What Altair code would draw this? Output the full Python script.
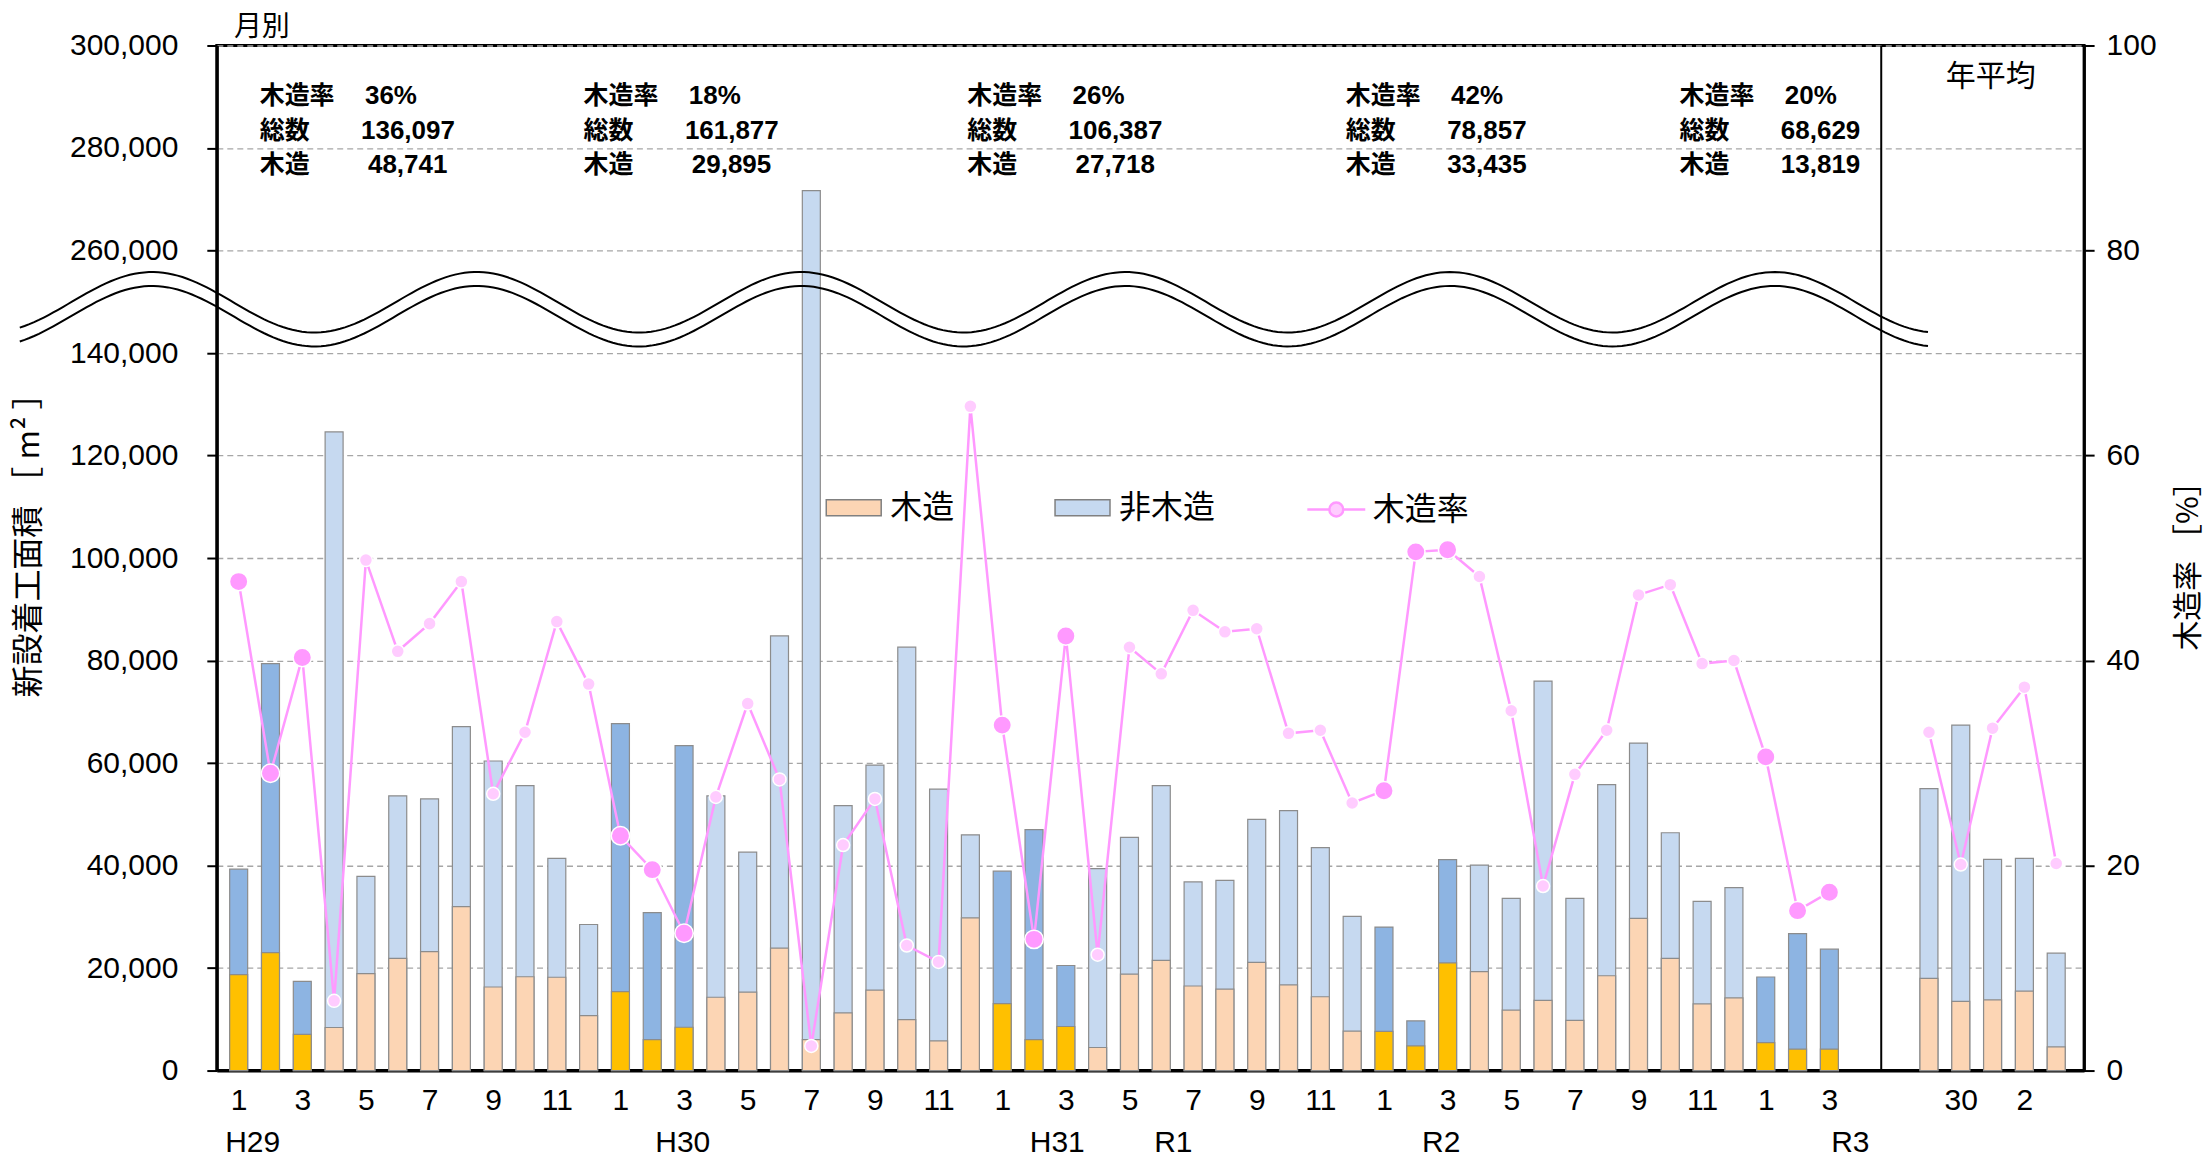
import json
import altair as alt
import pandas as pd
import numpy as np

# ---------------- data ----------------
months = [1, 2, 3, 4, 5, 6, 7, 8, 9, 10, 11, 12] * 4 + [1, 2, 3]
total_month = [
    39300, 79400, 17400, 124600, 37900, 53600, 53000, 67100, 60400, 55600, 41400, 28500,   # H29
    67700, 30800, 63400, 53600, 42600, 84800, 271700, 51700, 59600, 82600, 54900, 46000,   # H30
    38900, 47000, 20500, 39400, 45500, 55600, 36800, 37100, 49000, 50700, 43500, 30100,   # H31/R1
    28000, 9700, 41150, 40100, 33600, 76000, 33600, 55800, 63900, 46400, 33000, 35700,    # R2
    18250, 26700, 23680,                                                                 # R3
]
wood_month = [
    18700, 23000, 7041, 8400, 18900, 21900, 23200, 32000, 16300, 18300, 18200, 10700,
    15400, 6050, 8450, 14300, 15300, 23900, 6050, 11250, 15700, 9950, 5800, 29800,
    13050, 6050, 8600, 4500, 18800, 21500, 16500, 15900, 21100, 16700, 14400, 7700,
    7650, 4800, 21000, 19300, 11800, 13700, 9800, 18500, 29700, 21900, 13000, 14200,
    5460, 4180, 4180,
]
rate_month = [
    47.7, 29.0, 40.3, 6.8, 49.8, 40.9, 43.6, 47.7, 27.0, 33.0, 43.8, 37.7,
    22.9, 19.6, 13.4, 26.7, 35.8, 28.4, 2.4, 22.0, 26.5, 12.2, 10.6, 64.8,
    33.7, 12.8, 42.4, 11.3, 41.3, 38.7, 44.9, 42.8, 43.1, 32.9, 33.2, 26.1,
    27.3, 50.6, 50.8, 48.2, 35.1, 18.0, 28.9, 33.2, 46.4, 47.4, 39.7, 40.0,
    30.6, 15.6, 17.4,
]
annual_labels = ["29", "30", "元", "2", "3"]
total_annual = [55000, 67400, 41200, 41400, 22900]
wood_annual = [18000, 13500, 13800, 15500, 4620]
rate_annual = [33.0, 20.1, 33.4, 37.4, 20.2]

era_names = ["H29", "H30", "H31", "R1", "R2", "R3"]
block_rate = ["36%", "18%", "26%", "42%", "20%"]
block_total = ["136,097", "161,877", "106,387", "78,857", "68,629"]
block_wood = ["48,741", "29,895", "27,718", "33,435", "13,819"]
block_labels = ["木造率", "総数", "木造"]

# ---------------- layout ----------------
H = 1026
slot = 32.02                       # px per category slot
x_min, x_max = -0.53, 57.85        # x extent in slot units
W = round((x_max - x_min) * slot)
ann_first = 53.13                  # slot position of the first yearly-average bar
sep_pos = 51.63                    # monthly / yearly separator
CJK = "Noto Sans CJK JP"
NUM = "Liberation Sans"
n_m = len(months)

xpos_month = list(range(n_m))
xpos_ann = [round(ann_first + j, 2) for j in range(len(annual_labels))]

era_x = [0.44, 13.96, 25.73, 29.38, 37.8, 50.66]
block_x = [0.66, 10.84, 22.9, 34.8, 45.29]
line_py = [50.7, 85.7, 119.7]          # pixel offsets from the top of the plot


def py_to_rate(py):
    return 100.0 * (1.0 - py / H)


# ---------------- tables ----------------
rows = []
for i, m in enumerate(months):
    hl = m <= 3
    rows.append(dict(x=xpos_month[i], total=total_month[i], wood=wood_month[i],
                     kt="非木造1-3月" if hl else "非木造", kw="木造1-3月" if hl else "木造",
                     rate=rate_month[i], big=hl, seg="m", series="木造率"))
for j, lab in enumerate(annual_labels):
    rows.append(dict(x=xpos_ann[j], total=total_annual[j], wood=wood_annual[j],
                     kt="非木造", kw="木造", rate=rate_annual[j], big=False, seg="a", series="木造率"))
df = pd.DataFrame(rows)

# tick labels: every second category, as in the reference
tick_map = {}
for i, m in enumerate(months):
    if i % 2 == 0:
        tick_map[str(xpos_month[i])] = str(m)
for j, lab in enumerate(annual_labels):
    if j % 2 == 1:
        tick_map[str(xpos_ann[j])] = lab
tick_values = [float(k) for k in tick_map]
label_expr = json.dumps(tick_map, ensure_ascii=False) + "[''+datum.value]"

# axis-break symbol (decoration): two parallel wavy lines
wx = np.linspace(-6.88, 53.1, 400)
wtop = 74.95 + 2.95 * np.cos(2 * np.pi * (wx + 2.72) / 10.2)
wave_df = pd.concat([
    pd.DataFrame(dict(x=wx, y=wtop, curve="a")),
    pd.DataFrame(dict(x=wx, y=wtop - 1.36, curve="b")),
])

ann_rows = []
for b in range(len(block_x)):
    vals = [block_rate[b], block_total[b], block_wood[b]]
    offs = [106, 102, 102 + 7 * (len(block_total[b]) - len(block_wood[b]))]
    for k in range(3):
        ann_rows.append(dict(x=block_x[b], y=py_to_rate(line_py[k]), t=block_labels[k], kind="lab"))
        ann_rows.append(dict(x=block_x[b] + offs[k] / slot, y=py_to_rate(line_py[k]), t=vals[k], kind="num"))
ann_df = pd.DataFrame(ann_rows)

era_df = pd.DataFrame(dict(x=era_x, t=era_names))
misc_df = pd.DataFrame(dict(x=[-0.15, 55.07], y=[py_to_rate(-17), py_to_rate(32)],
                            t=["月別", "年平均"], al=["left", "center"]))
sep_df = pd.DataFrame(dict(x=[sep_pos]))

# ---------------- scales / axes ----------------
xscale = alt.Scale(domain=[x_min, x_max], nice=False, zero=False)
xaxis = alt.Axis(values=tick_values, labelExpr=label_expr,
                 ticks=False, domainColor="black", domainWidth=3, labelFont=NUM,
                 labelFontSize=30, labelColor="black", labelPadding=15, title=None,
                 grid=False, labelFlush=False, labelOverlap=False)


def X():
    return alt.X("x:Q", scale=xscale, axis=xaxis)


yscale = alt.Scale(domain=[0, 140000, 260000, 300000], range=[H, 0.3 * H, 0.2 * H, 0], nice=False)
yaxis = alt.Axis(values=[0, 20000, 40000, 60000, 80000, 100000, 120000, 140000, 260000, 280000, 300000],
                 format=",d", orient="left", title="新設着工面積 ［ m² ］", titleFont=CJK,
                 titleFontSize=32, titleFontWeight="normal", titleColor="black", titlePadding=24,
                 titleY=492, labelFont=NUM, labelFontSize=30, labelColor="black", labelPadding=29,
                 tickSize=10, tickWidth=2, tickColor="black", domainColor="black", domainWidth=3,
                 grid=True, gridDash=[6, 4], gridColor="#A6A6A6", gridWidth=1.3,
                 labelFlush=False, labelOverlap=False)
rscale = alt.Scale(domain=[0, 100], nice=False, zero=True)
raxis = alt.Axis(values=[0, 20, 40, 60, 80, 100], orient="right", title="木造率 ［%］",
                 titleFont=CJK, titleFontSize=30, titleFontWeight="normal", titleColor="black",
                 titleAngle=270, titleBaseline="top", titlePadding=17, labelFont=NUM,
                 labelFontSize=30, labelColor="black", labelPadding=12, tickSize=10, tickWidth=2,
                 tickColor="black", domainColor="black", domainWidth=2.5, grid=False,
                 labelFlush=False)

cscale = alt.Scale(domain=["木造", "非木造", "木造1-3月", "非木造1-3月"],
                   range=["#FCD5B4", "#C6D9F0", "#FFC000", "#8DB4E2"])
fill_legend = alt.Legend(orient="none", legendX=609, legendY=434, direction="horizontal",
                         title=None, values=["木造", "非木造"],
                         symbolType="M-1,-0.29H1V0.29H-1Z", symbolSize=3025,
                         symbolStrokeColor="#808080", symbolStrokeWidth=1.5,
                         labelFont=CJK, labelFontSize=32, labelColor="black", labelOffset=8,
                         columnPadding=97, padding=0)
line_legend = alt.Legend(orient="none", legendX=1090, legendY=434, title=None,
                         symbolType="M-1,0H-0.24M0.24,0H1M-0.24,0A0.24,0.24,0,1,1,0.24,0A0.24,0.24,0,1,1,-0.24,0Z",
                         symbolSize=3364, symbolStrokeWidth=2.5, symbolFillColor="#FFCCFF",
                         labelFont=CJK, labelFontSize=32, labelColor="black", labelOffset=6,
                         padding=0)

# ---------------- layers ----------------
base = alt.Chart(df)
total_bars = base.mark_bar(size=18, stroke="#8C8C8C", strokeWidth=1.2).encode(
    x=X(), y=alt.Y("total:Q", scale=yscale, axis=yaxis),
    color=alt.Color("kt:N", scale=cscale, legend=fill_legend))
wood_bars = base.mark_bar(size=18, stroke="#8C8C8C", strokeWidth=1.2).encode(
    x=X(), y=alt.Y("wood:Q", scale=yscale, axis=yaxis),
    color=alt.Color("kw:N", scale=cscale, legend=fill_legend))
left = alt.layer(total_bars, wood_bars)


def RY(f):
    return alt.Y(f, scale=rscale, axis=raxis)


wave = alt.Chart(wave_df).mark_line(color="black", strokeWidth=2).encode(
    x=X(), y=RY("y:Q"), detail="curve:N")
line = base.mark_line(strokeWidth=2.5).encode(
    x=X(), y=RY("rate:Q"), detail="seg:N",
    stroke=alt.Stroke("series:N", scale=alt.Scale(domain=["木造率"], range=["#FF99FF"]),
                      legend=line_legend))
points = base.mark_circle(stroke="white", strokeWidth=1.5, opacity=1).encode(
    x=X(), y=RY("rate:Q"),
    fill=alt.condition(alt.datum.big, alt.value("#FF99FF"), alt.value("#FFCCFF")),
    size=alt.condition(alt.datum.big, alt.value(340), alt.value(170)))

ann_lab = alt.Chart(ann_df).transform_filter(alt.datum.kind == "lab").mark_text(
    align="left", baseline="middle", font=CJK, fontSize=25, fontWeight="bold", color="black").encode(
    x=X(), y=RY("y:Q"), text="t:N")
ann_num = alt.Chart(ann_df).transform_filter(alt.datum.kind == "num").mark_text(
    align="left", baseline="middle", font=NUM, fontSize=26, fontWeight="bold", color="black").encode(
    x=X(), y=RY("y:Q"), text="t:N")
misc1 = alt.Chart(misc_df).transform_filter(alt.datum.al == "left").mark_text(
    align="left", baseline="middle", font=CJK, fontSize=28, color="black").encode(
    x=X(), y=RY("y:Q"), text="t:N")
misc2 = alt.Chart(misc_df).transform_filter(alt.datum.al == "center").mark_text(
    align="center", baseline="middle", font=CJK, fontSize=30, color="black").encode(
    x=X(), y=RY("y:Q"), text="t:N")
right = alt.layer(wave, line, points, ann_lab, ann_num, misc1, misc2)

sep = alt.Chart(sep_df).mark_rule(color="black", strokeWidth=2).encode(
    x=X(), y=alt.value(0), y2=alt.value(H))
era = alt.Chart(era_df).mark_text(align="center", baseline="alphabetic", font=NUM, fontSize=30,
                                  color="black").encode(x=X(), y=alt.value(H + 82), text="t:N")

chart = alt.layer(left, right, sep, era).resolve_scale(
    y="independent").properties(
    width=W, height=H, padding={"left": 4, "top": 5, "right": 0, "bottom": 0},
    background="white").configure_view(stroke="black", strokeWidth=3)

chart.save("out.html", embed_options={"renderer": "svg", "actions": False})
